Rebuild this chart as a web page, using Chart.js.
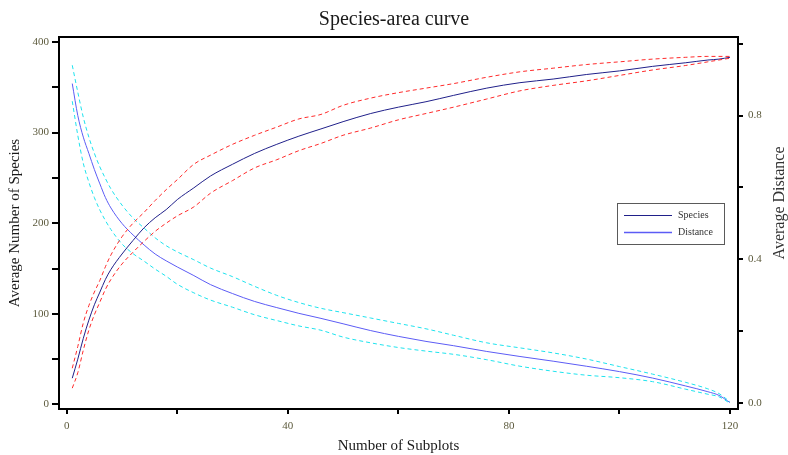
<!DOCTYPE html>
<html>
<head>
<meta charset="utf-8">
<title>Species-area curve</title>
<script src="https://cdn.jsdelivr.net/npm/chart.js@4.4.0/dist/chart.umd.min.js"></script>
<style>
    html, body { margin: 0; padding: 0; background: #fff; }
    #wrap { width: 788px; height: 455px; }
</style>
</head>
<body>
<div id="wrap"><canvas id="speciesAreaChart" width="788" height="455"></canvas></div>
<script>
// Values
const subplots = [1, 2, 3, 4, 5, 6, 7, 8, 10, 12, 14, 16, 18, 20, 23, 26, 30, 34, 38, 42, 46, 50,
    55, 60, 65, 70, 76, 82, 88, 94, 100, 106, 112, 116, 118, 120];

const species = [29, 50, 73, 93, 110, 124, 138, 149, 166, 181, 195, 206, 215, 226, 239, 252, 265, 277,
    287, 296, 304, 312, 321, 328, 334, 341, 349, 355, 359, 364, 368, 373, 377, 380, 381, 383];
const speciesUpper = [40, 64, 90, 109, 124, 137, 152, 165, 185, 200, 212, 225, 237, 248, 265, 275, 287, 297,
    306, 315, 320, 330, 338, 344, 349, 354, 361, 367, 371, 375, 378, 381, 383, 384, 384, 384];
const speciesLower = [18, 35, 60, 82, 99, 113, 127, 138, 155, 168, 180, 191, 200, 208, 218, 233, 247, 261,
    270, 280, 288, 297, 305, 314, 321, 328, 337, 346, 352, 357, 363, 369, 374, 378, 380, 382];

const distance = [0.889, 0.80, 0.74, 0.695, 0.65, 0.61, 0.572, 0.543, 0.50, 0.468, 0.44, 0.415, 0.396, 0.379,
    0.355, 0.33, 0.305, 0.283, 0.266, 0.25, 0.236, 0.221, 0.202, 0.186, 0.172, 0.16, 0.144, 0.13, 0.117,
    0.103, 0.088, 0.07, 0.048, 0.032, 0.022, 0.002];
const distanceUpper = [0.94, 0.865, 0.795, 0.74, 0.695, 0.657, 0.625, 0.596, 0.551, 0.515, 0.487, 0.46, 0.438,
    0.421, 0.399, 0.376, 0.352, 0.325, 0.30, 0.28, 0.264, 0.252, 0.237, 0.222, 0.207, 0.189, 0.168, 0.154,
    0.14, 0.123, 0.102, 0.081, 0.058, 0.04, 0.027, 0.004];
const distanceLower = [0.84, 0.745, 0.667, 0.615, 0.572, 0.537, 0.508, 0.483, 0.443, 0.416, 0.395, 0.373,
    0.353, 0.331, 0.307, 0.287, 0.267, 0.246, 0.23, 0.215, 0.203, 0.184, 0.168, 0.155, 0.145, 0.136, 0.121,
    0.103, 0.089, 0.078, 0.071, 0.06, 0.039, 0.025, 0.018, 0.0];

// Labelled ticks (other ticks are drawn without labels)
const xTickLabels = [0, 40, 80, 120];
const leftTickLabels = [0, 100, 200, 300, 400];
const rightTickLabels = ['0.0', '0.4', '0.8'];

const SERIF = "'Liberation Serif', 'DejaVu Serif', serif";
const TICK_COLOR = '#5c5a3c';
const SPECIES_COLOR = '#20208a';
const DISTANCE_COLOR = '#5c5cf5';
const RED_DASH = '#ff2a2a';
const CYAN_DASH = '#1ee3ee';

function toPoints(values) {
    return subplots.map((x, i) => ({ x: x, y: values[i] }));
}

function lineSet(label, values, color, axis, dashed) {
    return {
        label: label,
        data: toPoints(values),
        yAxisID: axis,
        borderColor: color,
        borderWidth: 1,
        borderDash: dashed ? [4, 3] : [],
        pointRadius: 0,
        fill: false,
        cubicInterpolationMode: 'monotone'
    };
}

// Frame top line, legend box and right axis title
const extrasPlugin = {
    id: 'extras',
    afterDraw(chart) {
        const ctx = chart.ctx;
        const area = chart.chartArea;
        ctx.save();

        ctx.strokeStyle = '#000';
        ctx.lineWidth = 2;
        ctx.beginPath();
        ctx.moveTo(area.left - 1, area.top);
        ctx.lineTo(area.right + 1, area.top);
        ctx.stroke();

        // legend
        const boxW = 107, boxH = 41;
        const boxX = area.right - 14 - boxW;
        const boxY = area.top + 166;
        ctx.fillStyle = '#fff';
        ctx.fillRect(boxX, boxY, boxW, boxH);
        ctx.strokeStyle = '#5a5a5a';
        ctx.lineWidth = 1;
        ctx.strokeRect(boxX + 0.5, boxY + 0.5, boxW, boxH);
        const entries = [
            { text: 'Species', color: SPECIES_COLOR, width: 1.2 },
            { text: 'Distance', color: DISTANCE_COLOR, width: 1.5 }
        ];
        ctx.font = '10px ' + SERIF;
        ctx.textAlign = 'left';
        ctx.textBaseline = 'middle';
        entries.forEach((e, i) => {
            const y = boxY + 12.5 + i * 17;
            ctx.strokeStyle = e.color;
            ctx.lineWidth = e.width;
            ctx.beginPath();
            ctx.moveTo(boxX + 7, y);
            ctx.lineTo(boxX + 55, y);
            ctx.stroke();
            ctx.fillStyle = '#333';
            ctx.fillText(e.text, boxX + 61, y);
        });

        // right axis title reads bottom-to-top like the left one
        ctx.translate(780, area.top + 166);
        ctx.rotate(-Math.PI / 2);
        ctx.font = '16px ' + SERIF;
        ctx.fillStyle = '#333';
        ctx.textAlign = 'center';
        ctx.textBaseline = 'middle';
        ctx.fillText('Average Distance', 0, 0);
        ctx.restore();
    }
};

const tickFont = { family: SERIF, size: 11 };

const chart = new Chart(document.getElementById('speciesAreaChart'), {
    type: 'line',
    data: {
        datasets: [
            lineSet('Species upper', speciesUpper, RED_DASH, 'y', true),
            lineSet('Species lower', speciesLower, RED_DASH, 'y', true),
            lineSet('Distance upper', distanceUpper, CYAN_DASH, 'y2', true),
            lineSet('Distance lower', distanceLower, CYAN_DASH, 'y2', true),
            lineSet('Species', species, SPECIES_COLOR, 'y', false),
            lineSet('Distance', distance, DISTANCE_COLOR, 'y2', false)
        ]
    },
    options: {
        responsive: false,
        animation: false,
        devicePixelRatio: 1,
        layout: { padding: 0 },
        plugins: {
            legend: { display: false },
            tooltip: { enabled: false },
            title: {
                display: true,
                text: 'Species-area curve',
                color: '#1a1a1a',
                font: { family: SERIF, size: 20, weight: 'normal' },
                padding: { top: 8, bottom: 5 }
            }
        },
        scales: {
            x: {
                type: 'linear',
                position: 'bottom',
                min: -1.4,
                max: 121.45,
                afterFit: scale => { scale.height = 46; },
                border: { display: true, color: '#000', width: 2 },
                grid: { drawOnChartArea: false, drawTicks: true, tickLength: 5, color: '#000', lineWidth: 2 },
                ticks: {
                    stepSize: 20,
                    includeBounds: false,
                    maxRotation: 0,
                    autoSkip: false,
                    padding: 6,
                    color: TICK_COLOR,
                    font: tickFont,
                    callback: v => xTickLabels.includes(Math.round(v)) ? String(Math.round(v)) : ''
                },
                title: {
                    display: true,
                    text: 'Number of Subplots',
                    color: '#1a1a1a',
                    font: { family: SERIF, size: 15 },
                    padding: { top: 0, bottom: 0 }
                }
            },
            y: {
                type: 'linear',
                position: 'left',
                min: -5,
                max: 405.4,
                afterFit: scale => { scale.width = 59; },
                border: { display: true, color: '#000', width: 2 },
                grid: { drawOnChartArea: false, drawTicks: true, tickLength: 7, color: '#000', lineWidth: 2 },
                ticks: {
                    stepSize: 50,
                    includeBounds: false,
                    autoSkip: false,
                    padding: 3,
                    color: TICK_COLOR,
                    font: tickFont,
                    callback: v => leftTickLabels.includes(Math.round(v)) ? String(Math.round(v)) : ''
                },
                title: {
                    display: true,
                    text: 'Average Number of Species',
                    color: '#1a1a1a',
                    font: { family: SERIF, size: 15 },
                    padding: { top: 6, bottom: 0 }
                }
            },
            y2: {
                type: 'linear',
                position: 'right',
                min: -0.016,
                max: 1.0185,
                afterFit: scale => { scale.width = 50; },
                border: { display: true, color: '#000', width: 2 },
                grid: { drawOnChartArea: false, drawTicks: true, tickLength: 5, color: '#000', lineWidth: 2 },
                ticks: {
                    stepSize: 0.2,
                    includeBounds: false,
                    autoSkip: false,
                    padding: 5,
                    color: TICK_COLOR,
                    font: tickFont,
                    callback: v => {
                        const label = (Math.round(v * 10) / 10).toFixed(1);
                        return rightTickLabels.includes(label) ? label : '';
                    }
                }
            }
        }
    },
    plugins: [extrasPlugin]
});
</script>
</body>
</html>
